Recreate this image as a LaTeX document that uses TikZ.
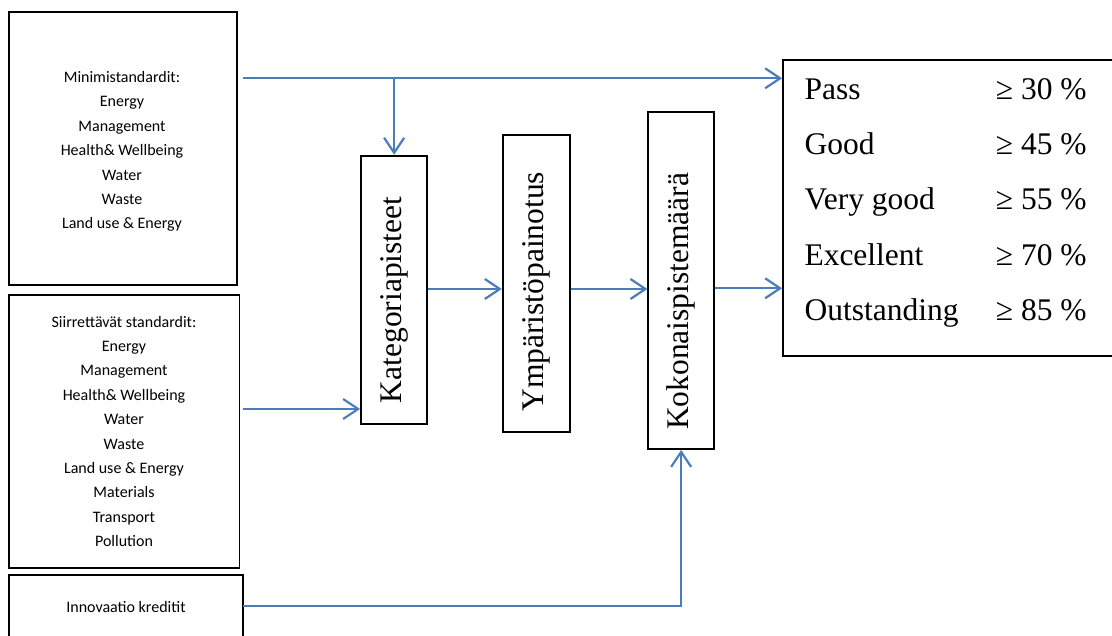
\documentclass[tikz,border=0pt]{standalone}
\usepackage{fontspec}
\setmainfont{Liberation Serif}
\newfontfamily\calfont{Carlito}
\usetikzlibrary{arrows.meta,calc}
\definecolor{lineblue}{HTML}{4A7EBB}
\begin{document}
\begin{tikzpicture}[x=1bp,y=-1bp,
  box/.style={draw=black, line width=1.8bp, inner sep=0pt},
  lefttext/.style={font=\calfont\fontsize{16bp}{24.4bp}\selectfont, align=center, inner sep=0pt},
  vtext/.style={rotate=90, anchor=base west, inner sep=0pt, font=\fontsize{31.5bp}{36bp}\selectfont},
  rtext/.style={anchor=base west, inner sep=0pt, font=\fontsize{31.5bp}{36bp}\selectfont},
  arr/.style={draw=lineblue, line width=2.2bp, -{Straight Barb[length=15bp,width=20bp]}}]
\useasboundingbox (0,0) rectangle (1112,636);
\clip (0,0) rectangle (1112,636);
% left boxes
\node[box, minimum width=228bp, minimum height=273bp] (A) at (123,148.5) {};
\node[lefttext] (tA) at (122,151.5)
  {Minimistandardit:\\Energy\\Management\\Health\& Wellbeing\\Water\\Waste\\Land use \& Energy};
\node[box, minimum width=230.5bp, minimum height=272.7bp] (B) at (124.25,431.35) {};
\node[lefttext] (tB) at (124,431.35)
  {Siirrettävät standardit:\\Energy\\Management\\Health\& Wellbeing\\Water\\Waste\\Land use \& Energy\\Materials\\Transport\\Pollution};
\node[box, minimum width=233.7bp, minimum height=90bp] (C) at (125.85,620) {};
\node[lefttext, anchor=base] (tC) at (126,612) {Innovaatio kreditit};
% vertical boxes
\node[box, minimum width=66.3bp, minimum height=268.3bp] (Kat) at (394.15,289.85) {};
\node[box, minimum width=67.3bp, minimum height=297.6bp] (Ymp) at (536.35,283.5) {};
\node[box, minimum width=65.7bp, minimum height=337.3bp] (Kok) at (681.15,280.35) {};
\node[vtext] (tKat) at (401.7,403.3) {Kategoriapisteet};
\node[vtext] (tYmp) at (543.3,411.7) {Ympäristöpainotus};
\node[vtext] (tKok) at (688.3,430) {Kokonaispistemäärä};
% result box
\node[box, minimum width=342bp, minimum height=296bp] (R) at (954,208) {};
\node[rtext] (l1) at (804.3,99.3) {Pass};
\node[rtext] (l2) at (804.3,155) {Good};
\node[rtext] (l3) at (804.3,210) {Very good};
\node[rtext] (l4) at (804.3,265.5) {Excellent};
\node[rtext] (l5) at (804.3,320.5) {Outstanding};
\node[rtext] (v1) at (995.7,99.3) {≥ 30 \%};
\node[rtext] (v2) at (995.7,155) {≥ 45 \%};
\node[rtext] (v3) at (995.7,210) {≥ 55 \%};
\node[rtext] (v4) at (995.7,265.5) {≥ 70 \%};
\node[rtext] (v5) at (995.7,320.5) {≥ 85 \%};
% connectors
\coordinate (a0) at (243,78.3);
\draw[arr] (a0) -- (a0 -| R.west);
\draw[arr] (Kat.north |- a0) -- (Kat.north);
\coordinate (b0) at (243,409);
\draw[arr] (b0) -- (b0 -| Kat.west);
\coordinate (m1) at (0,289);
\draw[arr] (Kat.east |- m1) -- (Ymp.west |- m1);
\draw[arr] (Ymp.east |- m1) -- (Kok.west |- m1);
\coordinate (m2) at (0,288.3);
\draw[arr] (Kok.east |- m2) -- (R.west |- m2);
\coordinate (c0) at (243,605.7);
\draw[arr] (c0) -| (Kok.south);
\end{tikzpicture}
\end{document}
